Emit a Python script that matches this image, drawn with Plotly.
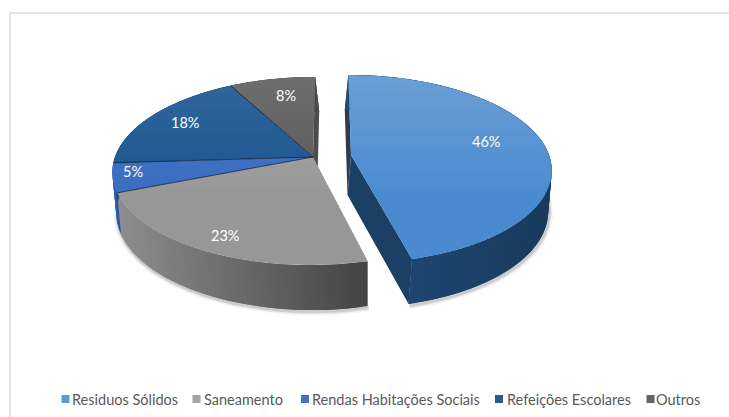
import math
import plotly.graph_objects as go

# Chart data
categories = ["Residuos Sólidos", "Saneamento", "Rendas Habitações Sociais", "Refeições Escolares", "Outros"]
shares = [46, 23, 5, 18, 8]
labels = ["46%", "23%", "5%", "18%", "8%"]

# Colours per slice: top surface (upper, lower), side wall (left, right), legend key
top_upper = ["#6a9ed6", "#adadad", "#4a78ca", "#33679d", "#6e6e6e"]
top_lower = ["#4a8bd0", "#979797", "#3a6cc0", "#175390", "#585858"]
wall_left = ["#1e4b78", "#8e8e8e", "#2f5fae", "#1c4a78", "#4a4a4a"]
wall_right = ["#1a3a5e", "#444444", "#2a55a0", "#1c4a78", "#4a4a4a"]
key_colors = ["#5b9bd5", "#a5a5a5", "#4472c4", "#255e91", "#636363"]

# Label placement along each slice's mid radius, with a small nudge in pixels
label_radius = [0.70, 0.85, 0.88, 0.78, 0.72]
label_dx = [0, 0, -4, -1, 4]
label_dy = [-6, 0, -4, -2, -3]

# Legend layout
key_x = [65.5, 196.5, 305, 499, 650.5]
text_x = [70, 202, 310, 505, 654]
legend_y = 399

# Projection of the tilted disc
RADIUS = 198
TILT = 92
PERSPECTIVE = 0.149
VANISH_X = 330
MAIN_CENTER = (313, 157)
EXPLODED_CENTER = (351, 155)


def project(center, theta, r=1.0):
    depth = -math.cos(theta) * r
    side = math.sin(theta) * r
    d = 1 - PERSPECTIVE * depth
    world_x = center[0] + RADIUS * side
    return VANISH_X + (world_x - VANISH_X) / d, center[1] + TILT * depth / d, depth


def lower(point, exploded):
    x, y, depth = point
    drop = 40 + 5 * depth
    if exploded:
        return x - 3.5, y + drop
    shift = 4 * min(max((368 - x) / 50, 0), 1)
    return x + shift, y + drop


def mix(a, b, t):
    ca = [int(a[i:i + 2], 16) for i in (1, 3, 5)]
    cb = [int(b[i:i + 2], 16) for i in (1, 3, 5)]
    t = min(max(t, 0), 1)
    return "rgb(%d,%d,%d)" % tuple(round(p + (q - p) * t) for p, q in zip(ca, cb))


def clip_band(poly, y0, y1):
    def clip(pts, inside, cut_y):
        out = []
        for i, p in enumerate(pts):
            q = pts[(i + 1) % len(pts)]
            if inside(p):
                out.append(p)
            if inside(p) != inside(q):
                t = (cut_y - p[1]) / (q[1] - p[1])
                out.append((p[0] + (q[0] - p[0]) * t, cut_y))
        return out
    pts = clip(poly, lambda p: p[1] >= y0, y0)
    if pts:
        pts = clip(pts, lambda p: p[1] <= y1, y1)
    return pts


fig = go.Figure()


def add_poly(points, color):
    fig.add_trace(go.Scatter(
        x=[p[0] for p in points] + [points[0][0]],
        y=[p[1] for p in points] + [points[0][1]],
        mode="lines", fill="toself", fillcolor=color,
        line=dict(color="rgba(0,0,0,0)", width=0),
        hoverinfo="skip", showlegend=False))


def add_line(points, color, width):
    fig.add_trace(go.Scatter(
        x=[p[0] for p in points], y=[p[1] for p in points], mode="lines",
        line=dict(color=color, width=width), hoverinfo="skip", showlegend=False))


total = sum(shares)
edges = [0.0]
for value in shares:
    edges.append(edges[-1] + value / total * 2 * math.pi)


def arc(center, a0, a1, step=math.radians(1.0)):
    n = max(2, int(abs(a1 - a0) / step) + 1)
    return [project(center, a0 + (a1 - a0) * i / n) for i in range(n + 1)]


# Soft contact shadow under the outer walls
for width, alpha in ((8, 0.05), (5, 0.08), (3, 0.12)):
    for idx, center, a0, a1 in ((0, EXPLODED_CENTER, math.radians(60), edges[1]),
                                (1, MAIN_CENTER, edges[1], edges[3])):
        pts = [lower(p, idx == 0) for p in arc(center, a0, a1)]
        add_line([(x + 1, y + 1.5) for x, y in pts], "rgba(40,40,40,%.2f)" % alpha, width)

# Cut faces hidden behind the two top surfaces
main_back = project(MAIN_CENTER, 2 * math.pi)
main_apex = project(MAIN_CENTER, 0, 0)
add_poly([main_back[:2], main_apex[:2], lower(main_apex, False), lower(main_back, False)], "#4c4c4c")
blue_back = project(EXPLODED_CENTER, 0)
blue_apex = project(EXPLODED_CENTER, 0, 0)
blue_front = project(EXPLODED_CENTER, edges[1])
add_poly([blue_back[:2], blue_apex[:2], lower(blue_apex, True), lower(blue_back, True)], "#2f3a4c")
add_poly([blue_apex[:2], blue_front[:2], lower(blue_front, True), lower(blue_apex, True)], "#1c4065")

# Outer walls: overlapping strips shaded across the slice, so no seams show
for idx in range(len(shares)):
    a0, a1 = edges[idx], edges[idx + 1]
    exploded = idx == 0
    center = EXPLODED_CENTER if exploded else MAIN_CENTER
    rim = arc(center, a0, a1, math.radians(1.5))
    xs = [p[0] for p in rim]
    xmin, xmax = min(xs), max(xs)
    for i in range(len(rim) - 1):
        p, q = rim[i], rim[min(i + 2, len(rim) - 1)]
        t = (rim[i][0] - xmin) / max(xmax - xmin, 1)
        add_poly([p[:2], q[:2], lower(q, exploded), lower(p, exploded)],
                 mix(wall_left[idx], wall_right[idx], t))

# Top surfaces, filled band by band for the vertical shading
BAND = 4
for idx in range(len(shares)):
    a0, a1 = edges[idx], edges[idx + 1]
    center = EXPLODED_CENTER if idx == 0 else MAIN_CENTER
    outline = [center] + [p[:2] for p in arc(center, a0, a1)]
    ys = [p[1] for p in outline]
    y = math.floor(min(ys))
    while y < max(ys):
        band = clip_band(outline, y, y + BAND + 1)
        if len(band) >= 3:
            t = (y + BAND / 2 - 77) / 120
            add_poly(band, mix(top_upper[idx], top_lower[idx], t))
        y += BAND

# Dark seams between neighbouring slices in the main disc
for edge in edges[2:5]:
    rim_point = project(MAIN_CENTER, edge)
    add_line([MAIN_CENTER, rim_point[:2]], "rgba(15,30,50,0.75)", 1)

# Value labels
annotations = []
for idx, text in enumerate(labels):
    mid = (edges[idx] + edges[idx + 1]) / 2
    center = EXPLODED_CENTER if idx == 0 else MAIN_CENTER
    x, y, _ = project(center, mid, label_radius[idx])
    annotations.append(dict(x=x + label_dx[idx], y=y + label_dy[idx], xref="x", yref="y",
                            text=text, showarrow=False,
                            font=dict(family="Lato", size=14.5, color="#ffffff")))

# Legend keys and captions
fig.add_trace(go.Scatter(
    x=key_x, y=[legend_y] * len(key_x), mode="markers",
    marker=dict(symbol="square", size=8, color=key_colors, line=dict(width=0)),
    hoverinfo="skip", showlegend=False))
for x, name in zip(text_x, categories):
    annotations.append(dict(x=x, y=legend_y, xref="x", yref="y", text=name, showarrow=False,
                            xanchor="left", font=dict(family="Lato", size=14.5, color="#595959")))

# Chart frame: only the top and left edges fall inside the page
shapes = [
    dict(type="line", x0=10, x1=729, y0=13, y1=13, xref="x", yref="y",
         line=dict(color="#dcdcdc", width=1.5)),
    dict(type="line", x0=10, x1=10, y0=13, y1=417, xref="x", yref="y",
         line=dict(color="#dcdcdc", width=1.5)),
]

fig.update_layout(
    width=729, height=417, margin=dict(l=0, r=0, t=0, b=0),
    paper_bgcolor="#ffffff", plot_bgcolor="#ffffff", showlegend=False,
    xaxis=dict(range=[0, 729], visible=False, fixedrange=True),
    yaxis=dict(range=[417, 0], visible=False, fixedrange=True),
    annotations=annotations, shapes=shapes)

fig.write_html("out.html", config={"displayModeBar": False})
